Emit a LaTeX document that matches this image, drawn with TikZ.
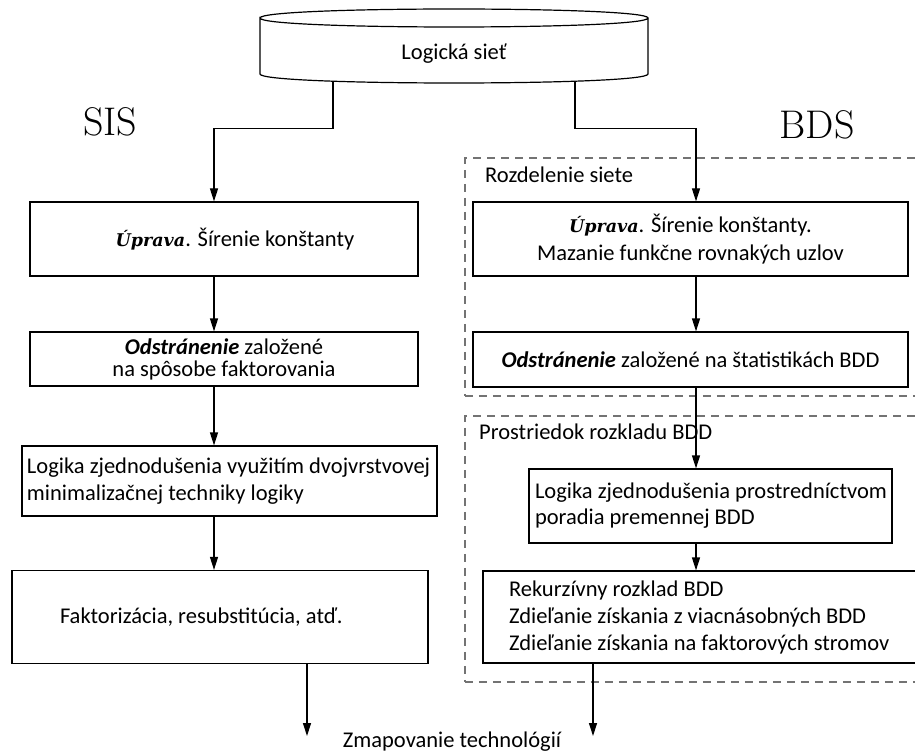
\documentclass[tikz,border=0pt]{standalone}
\usepackage{fontspec}
\setsansfont{Carlito}
\newfontfamily\upfont{DejaVu Serif}
\usetikzlibrary{arrows.meta}
\newcommand{\serifup}[1]{{\upfont\bfseries\itshape\fontsize{17.5}{22}\selectfont #1}}
\begin{document}
\begin{tikzpicture}[x=1pt,y=-1pt,
  txt/.style={font=\sffamily\fontsize{22.5}{27}\selectfont, text=black},
  box/.style={txt, draw=black, line width=1.2pt, rectangle, inner sep=0pt},
  lbl/.style={txt, inner sep=0pt},
  arr/.style={-{Triangle[length=13pt,width=8pt]}, line width=1.2pt},
  grp/.style={draw=black!55, dash pattern=on 8pt off 6pt, line width=1.6pt, rectangle, inner sep=0pt},
  big/.style={font=\rmfamily\fontsize{40}{42}\selectfont, inner sep=0pt}]
\useasboundingbox (0,0) rectangle (915,754);

% columns for the vertical connectors
\coordinate (colL) at (214,0);
\coordinate (colR) at (696,0);
\coordinate (outL) at (307,736);
\coordinate (outR) at (593,736);

% cylinder (logical network)
\draw[line width=1.2pt] (260,18) .. controls (260,6) and (648,6) .. (648,18)
  .. controls (648,30) and (260,30) .. (260,18) -- (260,74)
  .. controls (260,86) and (648,86) .. (648,74) -- (648,18);
\node[lbl, minimum width=388, minimum height=54] (cyl) at (454,54) {Logická sieť};

% titles
\node[big] (sis) at (110,122) {SIS};
\node[big] (bds) at (817,125) {BDS};

% dashed groups
\node[grp, anchor=north west, minimum width=470, minimum height=238] (g1) at (464,157) {};
\node[grp, anchor=north west, minimum width=470, minimum height=266] (g2) at (464,415) {};
\node[lbl, anchor=west] (g1t) at (485,175) {Rozdelenie siete};
\node[lbl, anchor=west] (g2t) at (479,432) {Prostriedok rozkladu BDD};

% left column (SIS)
\node[box, minimum width=388, minimum height=74] (L1) at (224,239)
  {\hspace*{22pt}\serifup{Úprava}. Šírenie konštanty};
\node[box, minimum width=388, minimum height=54, align=flush center, font=\sffamily\fontsize{22.5}{22}\selectfont] (L2) at (224,359)
  {\textbf{\textit{Odstránenie}} založené\\na spôsobe faktorovania};
\node[box, minimum height=70, inner xsep=5pt, text width=405pt, align=flush left] (L3) at (229.5,481)
  {\mbox{Logika zjednodušenia využitím dvojvrstvovej}\\\mbox{minimalizačnej techniky logiky}};
\node[box, minimum height=93, inner xsep=48pt, text width=320pt, align=flush left] (L4) at (220,617)
  {\mbox{Faktorizácia, resubstitúcia, atď.}};

% right column (BDS)
\node[box, minimum width=435, minimum height=74, align=flush center, font=\sffamily\fontsize{22.5}{28}\selectfont] (R1) at (690.5,239)
  {\serifup{Úprava}. Šírenie konštanty.\\Mazanie funkčne rovnakých uzlov};
\node[box, minimum width=435, minimum height=55] (R2) at (690.5,359.5)
  {\textbf{\textit{Odstránenie}} založené na štatistikách BDD};
\node[box, minimum height=74, inner xsep=6pt, text width=351pt, align=flush left, font=\sffamily\fontsize{22.5}{26}\selectfont] (R3) at (710.5,506)
  {\mbox{Logika zjednodušenia prostredníctvom}\\\mbox{poradia premennej BDD}};
\node[box, minimum height=92, inner xsep=26pt, text width=400pt, align=flush left] (R4) at (709,617)
  {\mbox{Rekurzívny rozklad BDD}\\\mbox{Zdieľanie získania z viacnásobných BDD}\\\mbox{Zdieľanie získania na faktorových stromov}};

% output label
\node[lbl] (map) at (452,742) {Zmapovanie technológií};

% connectors
\draw[arr] ([xshift=-121pt]cyl.south) -- ++(0,47) -| (L1.north -| colL);
\draw[arr] ([xshift=121pt]cyl.south) -- ++(0,47) -| (R1.north -| colR);
\draw[arr] (L1.south -| colL) -- (L2.north -| colL);
\draw[arr] (L2.south -| colL) -- (L3.north -| colL);
\draw[arr] (L3.south -| colL) -- (L4.north -| colL);
\draw[arr] (L4.south -| outL) -- (outL);
\draw[arr] (R1.south -| colR) -- (R2.north -| colR);
\draw[arr] (R2.south -| colR) -- (R3.north -| colR);
\draw[arr] (R3.south -| colR) -- (R4.north -| colR);
\draw[arr] (R4.south -| outR) -- (outR);
\end{tikzpicture}
\end{document}
